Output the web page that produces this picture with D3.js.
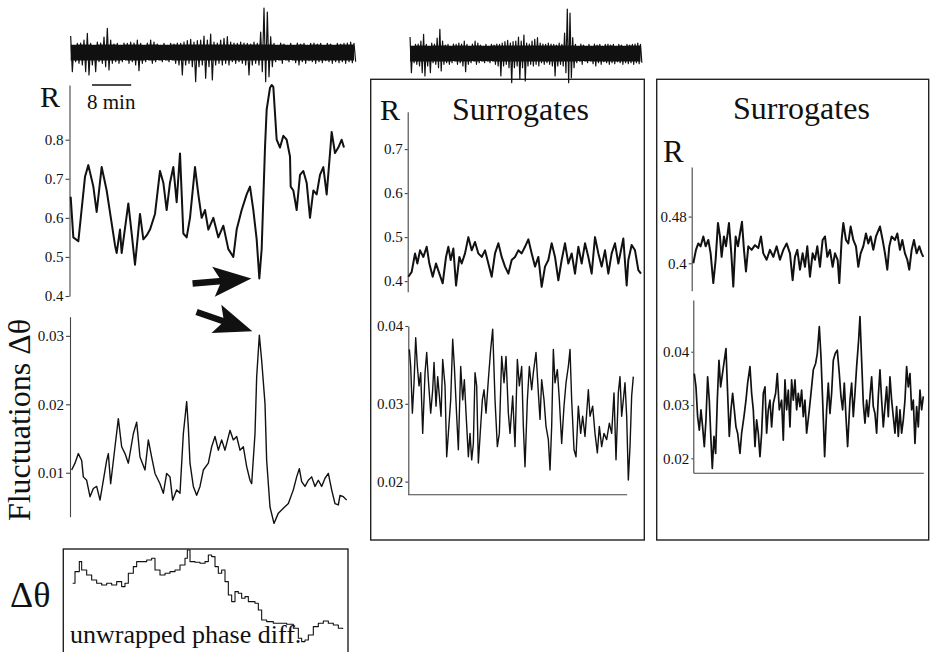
<!DOCTYPE html>
<html>
<head>
<meta charset="utf-8">
<script src="https://cdn.jsdelivr.net/npm/d3@7"></script>
<style>
body { margin: 0; background: #fff; }
svg { display: block; }
text { font-family: "Liberation Serif", "Times New Roman", Times, "DejaVu Serif", serif; }
.trace { fill: none; stroke: #111; stroke-linejoin: round; }
.axis path, .axis line { stroke: #444; stroke-width: 1.1; }
.axis text { font-size: 15px; fill: #111; }
.frame { fill: none; stroke: #222; stroke-width: 1.4; }
</style>
</head>
<body>
<svg id="fig" width="932" height="652"></svg>
<script>

// time axis is the sliding-window index (one step ~ 4.08 s)
var secPerStep = 4.08;
var leftSteps = [0, 852];
var midSteps = [0, 700];
var rightSteps = [0, 690];

// EEG envelope, one sample every eegHop steps (upper / lower excursion, a.u.)
var eegStart = 2, eegHop = 10;
var eegHi = [16,7,8.7,9,12,18.7,8.7,7,10,9, 15,23.7,12,8,8.7,7,9,8.7,10,9,
  12,8.7,7,9,12,10,8,7,8.7,7, 8.7,8,9,8.7,10,11.3,12.7,10,11.3,12,
  16,12,18,10,9,12,13.7,15.3,10,9, 8.7,10,9,8.7,8,10,8.7,20,44,40,
  15.3,8.7,7,9,8,7,8.7,7,9,8, 8.7,7,8.7,9,8,8.7,7,8.7,8,7, 8.7,8,8.7,9,10,8.7];
var eegLo = [-19.7,-9.7,-11.3,-13,-19.7,-23,-13,-19.7,-9.7,-11.3, -14.7,-18,-11.3,-9.7,-11.3,-9.7,-8,-11.3,-9.7,-13,
  -18.7,-11.3,-9.7,-8,-11.3,-9.7,-8,-9.7,-8,-9.7, -8,-11.3,-13,-23,-13,-11.3,-14.7,-29.7,-14.7,-13,
  -26.3,-14.7,-28,-13,-11.3,-13,-11.3,-13,-9.7,-11.3, -9.7,-11.3,-13,-23,-13,-11.3,-13,-19.7,-29.7,-24.7,
  -14.7,-9.7,-8,-11.3,-8,-9.7,-8,-10.7,-13,-9.7, -11.3,-8.7,-9.7,-11.3,-9.7,-10.7,-8.7,-9.7,-11.3,-9.7, -10.7,-9.7,-11.3,-9.7,-10.7,-9.7];
var eegCore = [-8.5, 7.5];   // dense background activity band

// mean phase coherence R, observed
var rObs = [[2,0.654],[10,0.55],[25,0.54],[45,0.705],[55,0.735],[70,0.68],[80,0.615],[95,0.73],[110,0.67],[135,0.53],
  [140,0.51],[150,0.57],[155,0.51],[175,0.637],[185,0.56],[195,0.48],[210,0.61],[220,0.545],[230,0.555],[240,0.57],
  [255,0.61],[270,0.72],[280,0.69],[290,0.62],[300,0.69],[310,0.73],[320,0.64],[330,0.765],[340,0.56],[350,0.55],
  [360,0.60],[375,0.73],[385,0.66],[395,0.60],[405,0.62],[415,0.57],[430,0.60],[445,0.55],[460,0.58],[475,0.52],
  [490,0.50],[500,0.57],[515,0.62],[530,0.66],[540,0.68],[550,0.62],[560,0.545],[568,0.445],[575,0.52],[585,0.78],
  [590,0.877],[600,0.933],[605,0.94],[610,0.935],[620,0.80],[630,0.78],[640,0.81],[650,0.80],[660,0.757],[662,0.68],
  [670,0.67],[680,0.62],[690,0.71],[700,0.72],[710,0.69],[720,0.60],[730,0.67],[740,0.66],[750,0.71],[760,0.73],
  [770,0.66],[780,0.765],[785,0.82],[795,0.766],[805,0.78],[815,0.80],[822,0.78]];

// fluctuations of the phase difference, observed
var fluctObs = [[5,0.0104],[15,0.0114],[25,0.0128],[35,0.0118],[40,0.0094],[50,0.0089],[60,0.0065],[70,0.0077],[80,0.0080],[90,0.0060],
  [100,0.0089],[110,0.0118],[115,0.0128],[122,0.0084],[135,0.0138],[145,0.0179],[155,0.0138],[165,0.0128],[175,0.0114],[190,0.0157],
  [200,0.0174],[210,0.0123],[225,0.0104],[235,0.0148],[245,0.0123],[255,0.0099],[270,0.0084],[280,0.0070],[290,0.0099],[300,0.0094],
  [308,0.0060],[320,0.0075],[330,0.0070],[340,0.0157],[350,0.0204],[355,0.0167],[360,0.0114],[370,0.0080],[380,0.0067],[390,0.0080],
  [400,0.0104],[415,0.0114],[425,0.0138],[435,0.0153],[445,0.0133],[455,0.0148],[465,0.0133],[480,0.0162],[490,0.0148],[500,0.0153],
  [510,0.0133],[520,0.0138],[530,0.0109],[540,0.0089],[545,0.0084],[555,0.0157],[560,0.0240],[568,0.0301],[575,0.0264],[585,0.0201],
  [590,0.0118],[600,0.0050],[612,0.0026],[625,0.0041],[640,0.0048],[655,0.0055],[670,0.0075],[680,0.0094],[688,0.0106],[695,0.0087],
  [705,0.0080],[715,0.0089],[725,0.0094],[735,0.0080],[745,0.0089],[755,0.0080],[765,0.0092],[775,0.0099],[785,0.0075],[795,0.0055],
  [805,0.0053],[810,0.0067],[820,0.0065],[830,0.0060]];

// unwrapped phase difference (rad)
var phaseObs = [[8,-3.5],[15,-2.33],[28,-1.33],[35,-2.17],[50,-2.67],[65,-3.17],[80,-3.5],[95,-3.67],[110,-3.5],[125,-3.67],
  [140,-3.33],[155,-3.83],[165,-3.5],[175,-2.5],[190,-1.83],[200,-1.33],[215,-1.33],[230,-1.17],[245,-1.0],[255,-2.17],
  [270,-2.67],[285,-2.5],[300,-2.33],[315,-2.17],[330,-1.67],[345,-1.0],[352,-0.17],[360,-1.33],[375,-1.4],[390,-1.5],
  [405,-1.33],[415,-0.67],[425,-0.83],[435,-1.83],[445,-2.5],[455,-2.17],[465,-3.33],[475,-4.67],[485,-5.33],[495,-4.33],
  [505,-4.5],[515,-5.0],[525,-4.83],[535,-5.33],[545,-5.33],[555,-5.5],[565,-6.17],[575,-7.17],[590,-7.33],[610,-7.5],
  [630,-7.5],[650,-7.6],[670,-8.0],[685,-9.0],[695,-9.33],[705,-9.17],[715,-8.67],[730,-7.83],[745,-7.5],[760,-7.27],
  [775,-7.5],[790,-7.67],[805,-8.0],[818,-8.07]];

// surrogates, first set
var rSurrA = [[2,0.41],[12,0.421],[22,0.463],[29,0.44],[37,0.47],[47,0.455],[57,0.478],[65,0.44],[75,0.41],[85,0.44],
  [95,0.417],[105,0.395],[115,0.455],[122,0.478],[129,0.448],[137,0.474],[145,0.39],[155,0.455],[162,0.44],[172,0.463],
  [182,0.50],[192,0.47],[202,0.489],[212,0.463],[222,0.455],[232,0.47],[242,0.44],[252,0.41],[262,0.463],[272,0.486],
  [282,0.455],[292,0.433],[302,0.417],[312,0.448],[322,0.455],[332,0.47],[342,0.463],[352,0.478],[362,0.495],[372,0.463],
  [382,0.433],[392,0.455],[402,0.387],[412,0.433],[422,0.448],[432,0.486],[442,0.455],[452,0.402],[462,0.448],[472,0.486],
  [482,0.44],[492,0.463],[502,0.417],[512,0.478],[522,0.44],[532,0.486],[542,0.455],[552,0.417],[562,0.50],[572,0.463],
  [582,0.433],[592,0.47],[602,0.417],[612,0.463],[622,0.486],[632,0.44],[647,0.497],[657,0.39],[662,0.448],[672,0.482],
  [682,0.47],[692,0.425],[700,0.417]];
var fluctSurrA = [[5,0.0370],[9,0.0348],[14,0.0288],[19,0.0327],[24,0.0385],[29,0.0348],[34,0.0323],[39,0.0340],[45,0.0262],[52,0.0340],
  [57,0.0366],[62,0.0331],[69,0.0288],[75,0.0318],[79,0.0353],[85,0.0297],[90,0.0335],[95,0.0310],[100,0.0284],[105,0.0357],
  [112,0.0323],[117,0.0232],[122,0.0262],[129,0.0305],[135,0.0383],[140,0.0348],[147,0.0284],[152,0.0241],[159,0.0348],[165,0.0305],
  [170,0.0331],[175,0.0288],[182,0.0232],[187,0.0262],[192,0.0228],[197,0.0249],[202,0.0340],[207,0.0323],[212,0.0224],[217,0.0258],
  [224,0.0305],[229,0.0318],[235,0.0288],[242,0.0331],[249,0.0370],[255,0.0396],[262,0.0305],[269,0.0245],[275,0.0262],[282,0.0361],
  [289,0.0327],[295,0.0361],[302,0.0288],[307,0.0262],[315,0.0310],[322,0.0245],[329,0.0357],[335,0.0323],[342,0.0348],[347,0.0271],
  [352,0.0219],[359,0.0305],[365,0.0348],[372,0.0318],[377,0.0340],[385,0.0366],[392,0.0314],[397,0.0280],[402,0.0331],[409,0.0305],
  [415,0.0271],[422,0.0254],[427,0.0215],[432,0.0271],[437,0.0370],[442,0.0327],[449,0.0344],[455,0.0305],[462,0.0249],[469,0.0297],
  [475,0.0327],[482,0.0348],[487,0.0370],[492,0.0305],[499,0.0241],[505,0.0232],[512,0.0297],[519,0.0262],[525,0.0284],[532,0.0258],
  [542,0.0318],[547,0.0284],[555,0.0297],[562,0.0262],[569,0.0237],[575,0.0271],[582,0.0245],[589,0.0262],[597,0.0254],[605,0.0275],
  [612,0.0262],[619,0.0314],[625,0.0228],[632,0.0314],[637,0.0335],[642,0.0284],[647,0.0305],[652,0.0327],[657,0.0284],[662,0.0202],
  [667,0.0245],[672,0.0310],[677,0.0335]];

// surrogates, second set
var rSurrB = [[0,0.40],[8,0.423],[15,0.434],[22,0.429],[30,0.446],[37,0.429],[45,0.44],[52,0.417],[60,0.366],[67,0.406],
  [74,0.469],[80,0.446],[85,0.411],[92,0.446],[98,0.429],[107,0.469],[114,0.417],[120,0.36],[127,0.446],[134,0.429],
  [140,0.451],[146,0.471],[152,0.423],[158,0.386],[165,0.429],[175,0.423],[185,0.431],[195,0.426],[203,0.446],[210,0.417],
  [220,0.406],[230,0.423],[240,0.411],[250,0.429],[260,0.406],[270,0.423],[280,0.434],[290,0.417],[298,0.371],[305,0.411],
  [312,0.423],[320,0.389],[328,0.417],[335,0.394],[342,0.429],[350,0.377],[358,0.417],[365,0.406],[372,0.429],[380,0.394],
  [388,0.44],[395,0.446],[402,0.411],[410,0.423],[418,0.394],[425,0.417],[433,0.406],[438,0.366],[445,0.44],[450,0.469],
  [458,0.44],[465,0.434],[472,0.463],[480,0.44],[488,0.429],[495,0.394],[502,0.417],[510,0.429],[518,0.451],[525,0.434],
  [532,0.446],[540,0.423],[548,0.446],[560,0.463],[568,0.44],[575,0.417],[582,0.389],[588,0.429],[595,0.446],[605,0.44],
  [612,0.451],[620,0.423],[627,0.44],[635,0.417],[642,0.406],[648,0.389],[655,0.423],[662,0.44],[670,0.417],[678,0.429],
  [685,0.417],[690,0.411]];
var fluctSurrB = [[3,0.0359],[8,0.0334],[13,0.0278],[18,0.0253],[23,0.0291],[28,0.0259],[33,0.0222],[38,0.0272],[43,0.0353],[48,0.0309],
  [53,0.0234],[57,0.0181],[62,0.0241],[67,0.0209],[72,0.0309],[77,0.0384],[82,0.0334],[98,0.0406],[103,0.0322],[108,0.0241],
  [113,0.0291],[118,0.0322],[123,0.0291],[128,0.0259],[133,0.0247],[140,0.0209],[145,0.0247],[152,0.0278],[158,0.0309],[163,0.0341],
  [170,0.0372],[175,0.0322],[180,0.0291],[185,0.0222],[190,0.0272],[195,0.0247],[200,0.0203],[205,0.0247],[210,0.0322],[215,0.0334],
  [220,0.0247],[225,0.0291],[230,0.0309],[235,0.0259],[240,0.0303],[247,0.0322],[252,0.0359],[258,0.0291],[265,0.0309],[270,0.0234],
  [275,0.0347],[280,0.0291],[285,0.0328],[290,0.0259],[295,0.0347],[300,0.0309],[305,0.0347],[310,0.0291],[315,0.0322],[320,0.0297],
  [325,0.0328],[330,0.0278],[335,0.0309],[340,0.0247],[348,0.0291],[355,0.0334],[360,0.0366],[367,0.0378],[372,0.0397],[378,0.0447],
  [383,0.0391],[388,0.0309],[394,0.0203],[400,0.0291],[405,0.0341],[410,0.0284],[415,0.0322],[420,0.0384],[426,0.0397],[432,0.0403],
  [438,0.0359],[443,0.0316],[448,0.0291],[453,0.0341],[458,0.0278],[463,0.0222],[470,0.0309],[475,0.0341],[480,0.0278],[485,0.0322],
  [490,0.0372],[496,0.0422],[500,0.0466],[505,0.0384],[510,0.0303],[515,0.0266],[520,0.0309],[525,0.0278],[530,0.0316],[535,0.0353],
  [540,0.0297],[545,0.0284],[550,0.0247],[555,0.0316],[560,0.0366],[565,0.0309],[570,0.0259],[575,0.0297],[580,0.0334],[585,0.0278],
  [590,0.0353],[595,0.0309],[600,0.0278],[605,0.0247],[610,0.0297],[615,0.0241],[620,0.0291],[625,0.0247],[630,0.0272],[635,0.0309],
  [640,0.0372],[645,0.0334],[650,0.0359],[655,0.0291],[660,0.0309],[665,0.0228],[670,0.0297],[675,0.0259],[680,0.0328],[685,0.0291],
  [690,0.0316]];

var rObsTicks = [0.4, 0.5, 0.6, 0.7, 0.8];
var fluctObsTicks = [0.01, 0.02, 0.03];
var rSurrATicks = [0.4, 0.5, 0.6, 0.7];
var fluctSurrATicks = [0.02, 0.03, 0.04];
var rSurrBTicks = [0.4, 0.48];
var fluctSurrBTicks = [0.02, 0.03, 0.04];
var scaleBarMin = 8;

var serif = '"Liberation Serif", "Times New Roman", Times, "DejaVu Serif", serif';
var svg = d3.select('#fig');

// scales
var xLeft = d3.scaleLinear().domain(leftSteps).range([70, 354]);
var xEegMid = d3.scaleLinear().domain(leftSteps).range([409.5, 640.5]);
var xMid = d3.scaleLinear().domain(midSteps).range([407.7, 641]);
var xRight = d3.scaleLinear().domain(rightSteps).range([693.3, 923.3]);

var yEeg = d3.scaleLinear().domain([-30, 30]).range([82, 22]);
var yEegMid = d3.scaleLinear().domain([-30, 30]).range([83, 23]);
var yR = d3.scaleLinear().domain([0.4, 0.94]).range([296, 85]);
var yFluct = d3.scaleLinear().domain([0.00358, 0.0328]).range([516.7, 316.7]);
var yPhase = d3.scaleLinear().domain([0, -10]).range([548.3, 648.3]);
var yRA = d3.scaleLinear().domain([0.376, 0.785]).range([291.7, 111.7]);
var yFA = d3.scaleLinear().domain([0.01837, 0.04]).range([494.3, 326]);
var yRB = d3.scaleLinear().domain([0.353, 0.565]).range([290.7, 167]);
var yFB = d3.scaleLinear().domain([0.0173, 0.0497]).range([472.7, 300]);

// frames of the two surrogate panels and the phase inset
svg.append('rect').classed('frame', true).attr('x', 370.7).attr('y', 79.3).attr('width', 273.6).attr('height', 460.7);
svg.append('rect').classed('frame', true).attr('x', 656.7).attr('y', 79.3).attr('width', 272).attr('height', 460.7);
svg.append('rect').classed('frame', true).attr('x', 63.3).attr('y', 549).attr('width', 284.7).attr('height', 120);

function drawTrace(data, x, y, width, curve) {
  var line = d3.line().x(function(d) { return x(d[0]); }).y(function(d) { return y(d[1]); })
    .curve(curve || d3.curveLinear);
  svg.append('path').classed('trace', true)
    .attr('d', line(data))
    .attr('stroke-width', width);
}

function drawEeg(x, y) {
  var steps = eegHi.map(function(h, i) { return eegStart + i * eegHop; });
  // solid band of background activity
  var band = d3.area()
    .x(function(s) { return x(s); })
    .y0(function(s, i) { return y(Math.max(eegLo[i], eegCore[0])); })
    .y1(function(s, i) { return y(Math.min(eegHi[i], eegCore[1])); });
  svg.append('path').attr('d', band(steps)).attr('fill', '#111');
  // alternate upper and lower excursions so the trace looks like raw EEG
  var pts = [];
  steps.forEach(function(s, i) {
    pts.push([s, eegHi[i]]);
    pts.push([s + eegHop / 2, eegLo[i]]);
  });
  drawTrace(pts, x, y, 1.2);
}

function drawAxisY(scale, ticks, xPos, tickLen) {
  var ax = d3.axisLeft(scale).tickValues(ticks).tickFormat(function(d) { return String(d); })
    .tickSizeInner(tickLen).tickSizeOuter(0).tickPadding(2);
  var g = svg.append('g').classed('axis', true).attr('transform', 'translate(' + xPos + ',0)');
  ax(g);
  g.attr('font-family', serif).attr('font-size', 15);
  return g;
}

function drawBaseline(xs, y, s0, s1) {
  var sub = d3.scaleLinear().domain([s0, s1]).range([xs(s0), xs(s1)]);
  var g = svg.append('g').classed('axis', true).attr('transform', 'translate(0,' + y + ')');
  d3.axisBottom(sub).tickValues([]).tickSizeOuter(0)(g);
}

// EEG traces on top
drawEeg(xLeft, yEeg);
drawEeg(xEegMid, yEegMid);

// left column: observed data
drawAxisY(yR, rObsTicks, 69.5, 4);
drawTrace(rObs, xLeft, yR, 2);
drawAxisY(yFluct, fluctObsTicks, 70, 4);
drawTrace(fluctObs, xLeft, yFluct, 1.4);
drawTrace(phaseObs, xLeft, yPhase, 1.1, d3.curveStepAfter);

// middle panel
drawAxisY(yRA, rSurrATicks, 407.7, 3);
drawTrace(rSurrA, xMid, yRA, 2);
drawAxisY(yFA, fluctSurrATicks, 408.3, 3);
drawBaseline(xMid, 494.3, 0, 657);
drawTrace(fluctSurrA, xMid, yFA, 1.4);

// right panel
drawAxisY(yRB, rSurrBTicks, 691.7, 3);
drawTrace(rSurrB, xRight, yRB, 2);
drawAxisY(yFB, fluctSurrBTicks, 693.3, 2);
drawBaseline(xRight, 472.7, 0, 690);
drawTrace(fluctSurrB, xRight, yFB, 1.7);

// scale bar
var barStart = 66;
var barSteps = scaleBarMin * 60 / secPerStep;
svg.append('line').attr('x1', xLeft(barStart)).attr('x2', xLeft(barStart + barSteps))
  .attr('y1', 85).attr('y2', 85).attr('stroke', '#111').attr('stroke-width', 1.3);

// arrows pointing at R minimum and fluctuation maximum
function drawArrow(tx, ty, angle) {
  var g = svg.append('g').attr('transform', 'translate(' + tx + ',' + ty + ') rotate(' + angle + ')');
  g.append('path').attr('d', 'M0,0 L-38,-15 L-30,0 L-38,15 Z').attr('fill', '#111');
  g.append('rect').attr('x', -59).attr('y', -3.2).attr('width', 30).attr('height', 6.4).attr('fill', '#111');
}
var rMin = rObs.reduce(function(a, b) { return b[1] < a[1] ? b : a; });
var fMax = fluctObs.reduce(function(a, b) { return b[1] > a[1] ? b : a; });
drawArrow(xLeft(rMin[0]) - 8, yR(rMin[1]), -5);
drawArrow(xLeft(fMax[0]) - 7, yFluct(fMax[1]) - 4, 19);

// labels
function label(txt, x, y, size) {
  return svg.append('text').attr('x', x).attr('y', y)
    .attr('font-family', serif).attr('font-size', size).attr('fill', '#111').text(txt);
}
label('R', 40, 107, 30);
label('8 min', 87, 109, 21);
label('\u0394\u03b8', 10, 607, 36);
label('unwrapped phase diff.', 70, 643, 26);
label('R', 380, 120, 30);
label('Surrogates', 452, 120, 32);
label('Surrogates', 733, 119, 32);
label('R', 663, 162, 31);
svg.append('text').attr('transform', 'translate(30,420) rotate(-90)')
  .attr('text-anchor', 'middle').attr('font-family', serif).attr('font-size', 32).attr('fill', '#111')
  .text('Fluctuations \u0394\u03b8');

</script>
</body>
</html>
